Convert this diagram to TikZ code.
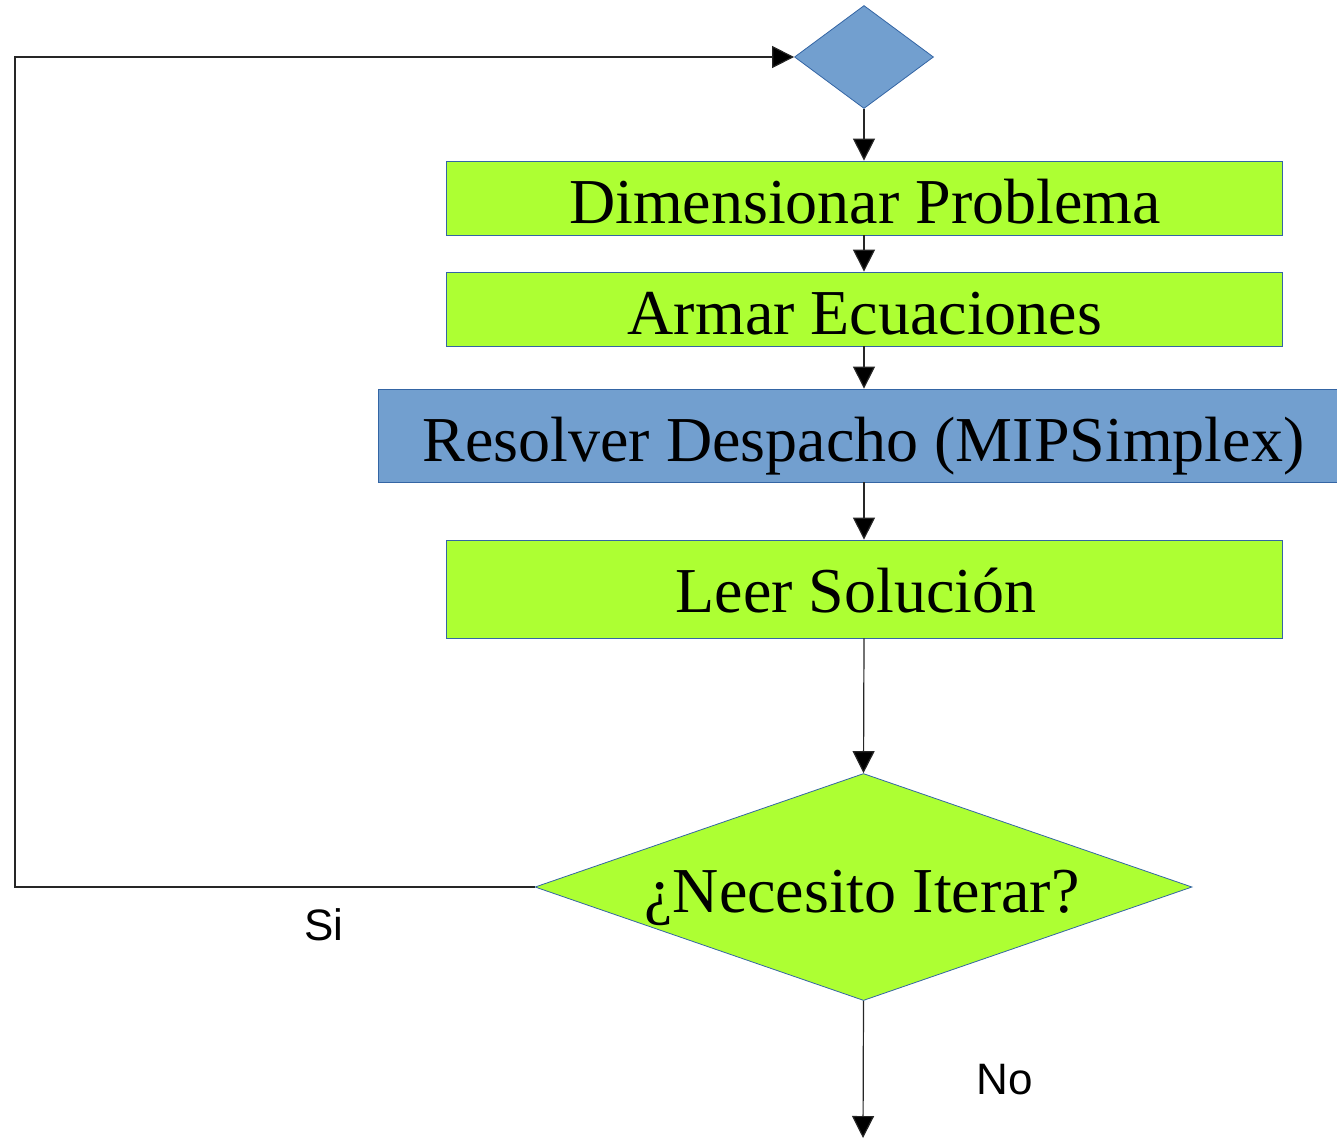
\documentclass[tikz,border=0pt]{standalone}
\usepackage{fontspec}
\setmainfont{Liberation Serif}
\newfontfamily\labelfont{Liberation Sans}
\usetikzlibrary{arrows.meta,shapes.geometric}
\definecolor{boxgreen}{HTML}{ADFF33}
\definecolor{boxblue}{HTML}{729FCF}
\definecolor{edgeblue}{HTML}{3465A4}
\begin{document}
\begin{tikzpicture}[x=1pt,y=-1pt,
  procbox/.style={draw=edgeblue,line width=0.8pt,fill=boxgreen,minimum height=74pt,minimum width=836pt,inner sep=0pt},
  boxtext/.style={anchor=base,inner sep=0pt,font=\fontsize{64}{64}\selectfont},
  decide/.style={diamond,draw=edgeblue,line width=0.8pt,inner sep=0pt,aspect=1},
  conn/.style={line width=1.2pt,draw=black!85,-{Triangle[width=22pt,length=22pt,fill=black]}},
  lbl/.style={font=\labelfont\fontsize{44}{44}\selectfont}]
\useasboundingbox (0,0) rectangle (1337,1138);
\node[decide,fill=boxblue,minimum width=139pt,minimum height=103pt] (top) at (864,57) {};
\node[procbox] (dim) at (864,198) {};
\node[procbox] (arm) at (864,309) {};
\node[procbox,fill=boxblue,minimum width=959pt,minimum height=93pt] (res) at (857.5,435.5) {};
\node[procbox,minimum height=98pt] (leer) at (864,589) {};
\node[decide,fill=boxgreen,minimum width=657pt,minimum height=227pt] (iter) at (863.5,887) {};
\node[boxtext] (dimtxt) at (865,223) {Dimensionar Problema};
\node[boxtext] (armtxt) at (865,334) {Armar Ecuaciones};
\node[boxtext] (restxt) at (863.5,461) {Resolver Despacho (MIPSimplex)};
\node[boxtext] (leertxt) at (856,612) {Leer Solución};
\node[boxtext] (itertxt) at (862,912) {¿Necesito Iterar?};
\coordinate (out) at (863,1138);
\coordinate (c1) at (15,887);
\coordinate (c2) at (15,57);
\draw[conn] (top.south) -- (dim.north);
\draw[conn] (dim.south) -- (arm.north);
\draw[conn] (arm.south) -- (arm.south |- res.north);
\draw[conn] (res.south -| leer.north) -- (leer.north);
\draw[conn] (leer.south) -- (iter.north);
\draw[conn] (iter.south) -- (out);
\draw[conn] (iter.west) -- (c1) -- (c2) -- (top.west);
\node[lbl] (si) at (324,925) {Si};
\node[lbl] (no) at (1005,1080) {No};
\end{tikzpicture}
\end{document}
